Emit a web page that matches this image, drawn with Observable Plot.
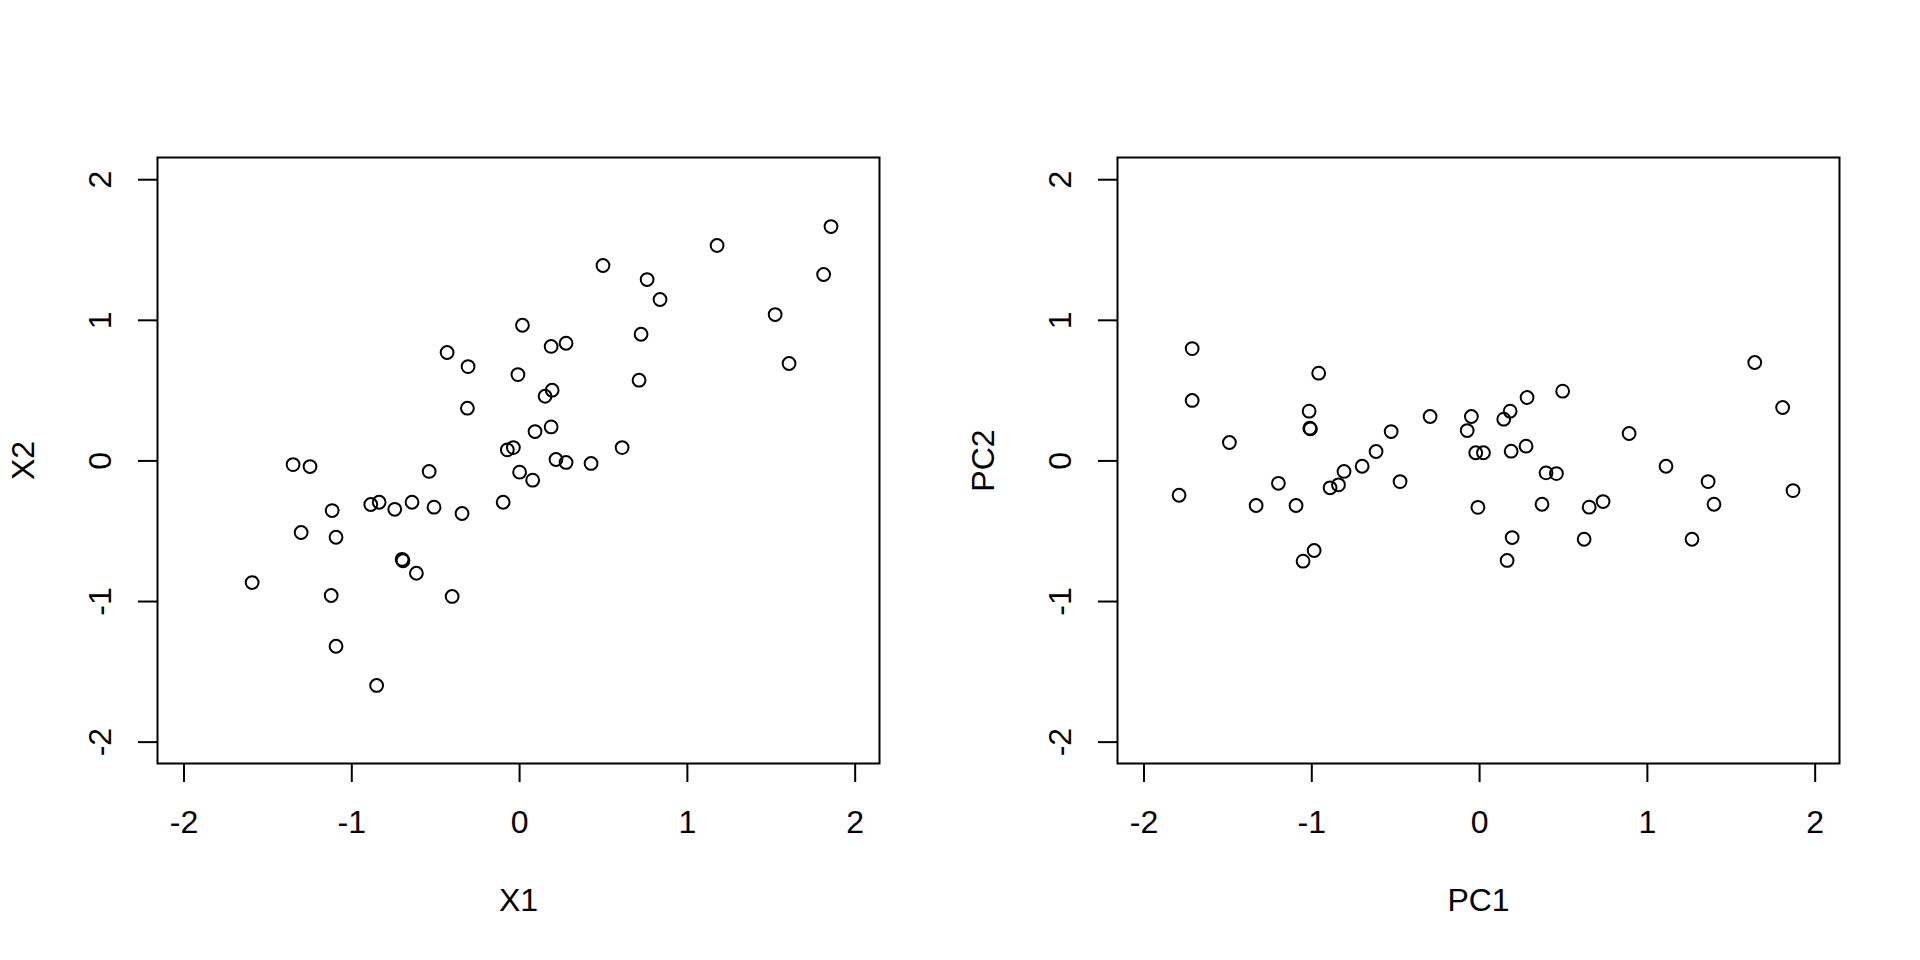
<!DOCTYPE html>
<html>
<head>
<meta charset="utf-8">
<script src="https://cdn.jsdelivr.net/npm/d3@7"></script>
<script src="https://cdn.jsdelivr.net/npm/@observablehq/plot@0.6"></script>
<style>
  html, body { margin: 0; padding: 0; background: #fff; }
  #wrap { display: flex; flex-direction: row; width: 1920px; height: 960px; }
</style>
</head>
<body>
<div id="wrap"></div>
<script>
// Left panel: original variables
const x1 = [0.017, -0.432, -0.307, -0.01, -0.311, -0.073, -0.037, 1.856, 1.177, 0.497,
  0.760, 1.812, 0.837, 1.523, 0.724, 0.188, 0.277, 1.606, 0.712, 0.152,
  0.194, 0.092, 0.188, 0.611, 0.217, 0.277, 0.426, 0.0, 0.078, -1.350,
  -1.249, -0.539, -0.098, -1.117, -0.887, -0.837, -0.744, -0.641, -0.510, -0.343,
  -1.302, -1.094, -0.700, -0.695, -0.615, -1.594, -1.123, -0.402, -1.094, -0.852];
const x2 = [0.965, 0.771, 0.671, 0.614, 0.375, 0.079, 0.095, 1.667, 1.532, 1.390,
  1.290, 1.326, 1.148, 1.041, 0.901, 0.814, 0.837, 0.693, 0.574, 0.460,
  0.503, 0.209, 0.242, 0.095, 0.010, -0.011, -0.018, -0.080, -0.137, -0.026,
  -0.040, -0.075, -0.294, -0.353, -0.310, -0.294, -0.344, -0.294, -0.329, -0.374,
  -0.509, -0.543, -0.700, -0.710, -0.799, -0.865, -0.957, -0.964, -1.318, -1.597];

// Right panel: principal component scores
const pc1 = [-1.713, -1.713, -0.959, -1.016, -1.012, -1.008, -1.491, -0.295, -0.049, -0.074,
  -0.527, -0.617, -0.700, -0.808, -0.841, -0.891, -0.474, -1.199, -1.791, -1.332,
  -1.094, -0.986, -1.052, 1.640, 1.806, 0.495, 0.283, 0.182, 0.144, 0.891,
  -0.023, 0.023, 0.188, 0.277, 0.396, 0.458, 1.111, 1.362, 1.868, -0.010,
  0.372, 0.653, 0.736, 1.397, 0.194, 0.623, 1.266, 0.164];
const pc2 = [0.799, 0.430, 0.624, 0.354, 0.233, 0.228, 0.131, 0.316, 0.316, 0.216,
  0.209, 0.067, -0.038, -0.075, -0.170, -0.191, -0.147, -0.159, -0.244, -0.317,
  -0.317, -0.637, -0.713, 0.700, 0.380, 0.496, 0.451, 0.354, 0.297, 0.195,
  0.058, 0.058, 0.069, 0.105, -0.085, -0.090, -0.038, -0.147, -0.211, -0.330,
  -0.308, -0.329, -0.289, -0.308, -0.545, -0.557, -0.557, -0.708];

const xTicks = [-2, -1, 0, 1, 2];
const yTicks = [-2, -1, 0, 1, 2];
const xDomain = [-2.158, 2.145];
const yDomain = [-2.152, 2.158];

function panel(xs, ys, xLabel, yLabel) {
  const data = xs.map((v, i) => ({x: v, y: ys[i]}));
  return Plot.plot({
    width: 960,
    height: 960,
    marginLeft: 157,
    marginRight: 81,
    marginTop: 157,
    marginBottom: 197,
    style: {fontFamily: "'Liberation Sans', Arial, sans-serif", fontSize: "32px", background: "#fff", color: "#000"},
    x: {domain: xDomain, label: null},
    y: {domain: yDomain, label: null},
    marks: [
      Plot.frame({stroke: "#000", strokeWidth: 2}),
      Plot.axisX({ticks: xTicks, tickSize: 19, tickPadding: 28, strokeWidth: 2, fontSize: 32,
        tickFormat: d => String(d), label: null}),
      Plot.axisY({ticks: yTicks, tickSize: 19, strokeWidth: 2, tickFormat: () => "", label: null}),
      Plot.text(yTicks, {y: d => d, text: d => String(d), frameAnchor: "left", dx: -57,
        rotate: -90, lineAnchor: "middle", textAnchor: "middle", fontSize: 32, fill: "#000"}),
      Plot.text([xLabel], {text: d => d, frameAnchor: "bottom", dy: 137, lineAnchor: "middle",
        fontSize: 32, fill: "#000"}),
      Plot.text([yLabel], {text: d => d, frameAnchor: "left", dx: -134, rotate: -90,
        lineAnchor: "middle", textAnchor: "middle", fontSize: 32, fill: "#000"}),
      Plot.dot(data, {x: "x", y: "y", r: 6.4, stroke: "#000", strokeWidth: 2, fill: "none"})
    ]
  });
}

const wrap = document.getElementById("wrap");
wrap.appendChild(panel(x1, x2, "X1", "X2"));
wrap.appendChild(panel(pc1, pc2, "PC1", "PC2"));
</script>
</body>
</html>
